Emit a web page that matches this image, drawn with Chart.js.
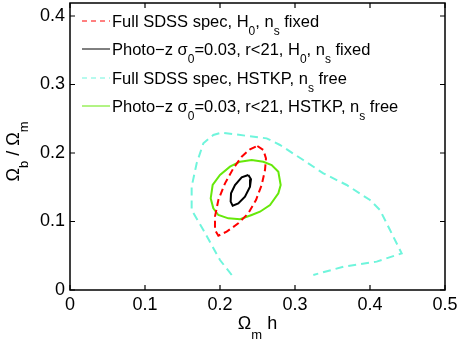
<!DOCTYPE html>
<html>
<head>
<meta charset="utf-8">
<script src="https://cdn.jsdelivr.net/npm/chart.js@4.4.1/dist/chart.umd.min.js"></script>
<style>
  html, body { margin: 0; padding: 0; background: #fff; }
  #c { display: block; }
</style>
</head>
<body>
<canvas id="c" width="463" height="345"></canvas>
<script>
// Ωb/Ωm vs Ωm h forecast contours (SDSS spec vs photo-z)

const xTicks = [0, 0.1, 0.2, 0.3, 0.4, 0.5]
const xTickLabels = ["0", "0.1", "0.2", "0.3", "0.4", "0.5"]
const yTicks = [0, 0.1, 0.2, 0.3, 0.4]
const yTickLabels = ["0", "0.1", "0.2", "0.3", "0.4"]

// Full SDSS spec, HSTKP, ns free (open contour, cut by the bottom)
const cyanX = [0.2156, 0.2000, 0.1778, 0.1622, 0.1622, 0.1689, 0.1778, 0.1911, 0.2022, 0.2622,
  0.2800, 0.3110, 0.3378, 0.3689, 0.4000, 0.4133, 0.4267, 0.4422, 0.4089, 0.3644, 0.3244]
const cyanY = [0.0219, 0.0438, 0.0876, 0.1168, 0.1509, 0.1850, 0.2141, 0.2263, 0.2297, 0.2214,
  0.2117, 0.1898, 0.1703, 0.1533, 0.1314, 0.1168, 0.0876, 0.0535, 0.0414, 0.0340, 0.0219]

// Photo-z, HSTKP, ns free
const greenX = [0.2267, 0.2422, 0.2578, 0.2689, 0.2778, 0.2809, 0.2778, 0.2667, 0.2533, 0.2422,
  0.2267, 0.2111, 0.1978, 0.1911, 0.1876, 0.1902, 0.2000, 0.2133, 0.2267]
const greenY = [0.1873, 0.1898, 0.1873, 0.1825, 0.1727, 0.1533, 0.1411, 0.1241, 0.1143, 0.1095,
  0.1032, 0.1046, 0.1095, 0.1192, 0.1338, 0.1533, 0.1679, 0.1800, 0.1873]

// Full SDSS spec, H0, ns fixed
const redX = [0.2498, 0.2578, 0.2613, 0.2600, 0.2556, 0.2480, 0.2378, 0.2244, 0.2089, 0.1978,
  0.1933, 0.1933, 0.1978, 0.2067, 0.2178, 0.2289, 0.2400, 0.2498]
const redY = [0.2102, 0.2044, 0.1922, 0.1752, 0.1533, 0.1314, 0.1120, 0.0973, 0.0852, 0.0793,
  0.0876, 0.1071, 0.1314, 0.1557, 0.1776, 0.1947, 0.2054, 0.2102]

// Photo-z, H0, ns fixed
const blackX = [0.2378, 0.2413, 0.2400, 0.2333, 0.2244, 0.2169, 0.2142, 0.2147, 0.2200, 0.2289, 0.2378]
const blackY = [0.1679, 0.1616, 0.1509, 0.1363, 0.1265, 0.1231, 0.1290, 0.1411, 0.1533, 0.1645, 0.1679]

// legend labels as [text, isSubscript] runs
const legendLabels = [
  [["Full SDSS spec, H", 0], ["0", 1], [", n", 0], ["s", 1], [" fixed", 0]],
  [["Photo\u2212z \u03c3", 0], ["0", 1], ["=0.03, r<21, H", 0], ["0", 1], [", n", 0], ["s", 1], [" fixed", 0]],
  [["Full SDSS spec, HSTKP, n", 0], ["s", 1], [" free", 0]],
  [["Photo\u2212z \u03c3", 0], ["0", 1], ["=0.03, r<21, HSTKP, n", 0], ["s", 1], [" free", 0]],
]

const RED = "#ff0000"
const BLACK = "#000000"
const CYAN = "#6ff5dc"
const GREEN = "#66e80a"
const FONT = "'Liberation Sans', Arial, Helvetica, sans-serif"

const pts = (xs, ys) => xs.map((x, i) => ({ x, y: ys[i] }))

const series = [
  { data: pts(redX, redY), color: RED, dash: [7, 4] },
  { data: pts(blackX, blackY), color: BLACK, dash: [] },
  { data: pts(cyanX, cyanY), color: CYAN, dash: [8, 5] },
  { data: pts(greenX, greenY), color: GREEN, dash: [] },
]

// draw a run of text with subscripts, align = left|center
const drawRich = (ctx, runs, x, y, size, subSize, subDrop, align) => {
  const widths = runs.map(([t, sub]) => {
    ctx.font = `${sub ? subSize : size}px ${FONT}`
    return ctx.measureText(t).width
  })
  const total = widths.reduce((a, b) => a + b, 0)
  let cx = align === "center" ? x - total / 2 : x
  ctx.textAlign = "left"
  ctx.textBaseline = "alphabetic"
  runs.forEach(([t, sub], i) => {
    ctx.font = `${sub ? subSize : size}px ${FONT}`
    ctx.fillText(t, cx, sub ? y + subDrop : y)
    cx += widths[i]
  })
}

const frame = {
  id: "frame",
  afterDatasetsDraw(chart) {
    const { ctx, chartArea: a, scales } = chart
    const L = a.left, R = a.right, T = a.top, B = a.bottom
    ctx.save()
    ctx.strokeStyle = "#000"
    ctx.lineWidth = 1.5
    ctx.strokeRect(L, T, R - L, B - T)

    // inward ticks on all four sides
    ctx.lineWidth = 1.2
    ctx.beginPath()
    xTicks.forEach((v) => {
      const px = scales.x.getPixelForValue(v)
      ctx.moveTo(px, B); ctx.lineTo(px, B - 5)
      ctx.moveTo(px, T); ctx.lineTo(px, T + 5)
    })
    yTicks.forEach((v) => {
      const py = scales.y.getPixelForValue(v)
      ctx.moveTo(L, py); ctx.lineTo(L + 5, py)
      ctx.moveTo(R, py); ctx.lineTo(R - 5, py)
    })
    ctx.stroke()

    // tick labels
    ctx.fillStyle = "#000"
    ctx.font = `18px ${FONT}`
    ctx.textAlign = "center"
    ctx.textBaseline = "alphabetic"
    xTicks.forEach((v, i) => ctx.fillText(xTickLabels[i], scales.x.getPixelForValue(v), B + 20))
    ctx.textAlign = "right"
    ctx.textBaseline = "middle"
    yTicks.forEach((v, i) => ctx.fillText(yTickLabels[i], L - 5, scales.y.getPixelForValue(v)))

    // axis titles
    drawRich(ctx, [["\u03a9", 0], ["m", 1], [" h", 0]], (L + R) / 2, B + 39, 18, 13, 10, "center")
    ctx.save()
    ctx.translate(19, (T + B) / 2 + 5)
    ctx.rotate(-Math.PI / 2)
    drawRich(ctx, [["\u03a9", 0], ["b", 1], [" / \u03a9", 0], ["m", 1]], 0, 0, 18, 13, 9, "center")
    ctx.restore()

    // legend
    const rowY = [27, 55, 84, 112]
    legendLabels.forEach((runs, i) => {
      const s = series[i]
      ctx.strokeStyle = s.color
      ctx.lineWidth = 1
      ctx.setLineDash(s.dash.length ? [5, 4] : [])
      ctx.beginPath()
      ctx.moveTo(82, rowY[i] - 6)
      ctx.lineTo(110, rowY[i] - 6)
      ctx.stroke()
      ctx.setLineDash([])
      ctx.fillStyle = "#000"
      drawRich(ctx, runs, 112, rowY[i], 16.5, 12, 8, "left")
    })
    ctx.restore()
  },
}

new Chart(document.getElementById("c"), {
  type: "scatter",
  data: {
    datasets: series.map((s) => ({
      data: s.data,
      showLine: true,
      borderColor: s.color,
      borderWidth: 2,
      borderDash: s.dash,
      pointRadius: 0,
      fill: false,
      tension: 0,
    })),
  },
  options: {
    responsive: false,
    animation: false,
    devicePixelRatio: 1,
    layout: { padding: { left: 70, top: 3, right: 18, bottom: 55 } },
    plugins: { legend: { display: false }, tooltip: { enabled: false } },
    scales: {
      x: { type: "linear", min: 0, max: 0.5, display: false },
      y: { type: "linear", min: 0, max: 0.419, display: false },
    },
  },
  plugins: [frame],
})
</script>
</body>
</html>
